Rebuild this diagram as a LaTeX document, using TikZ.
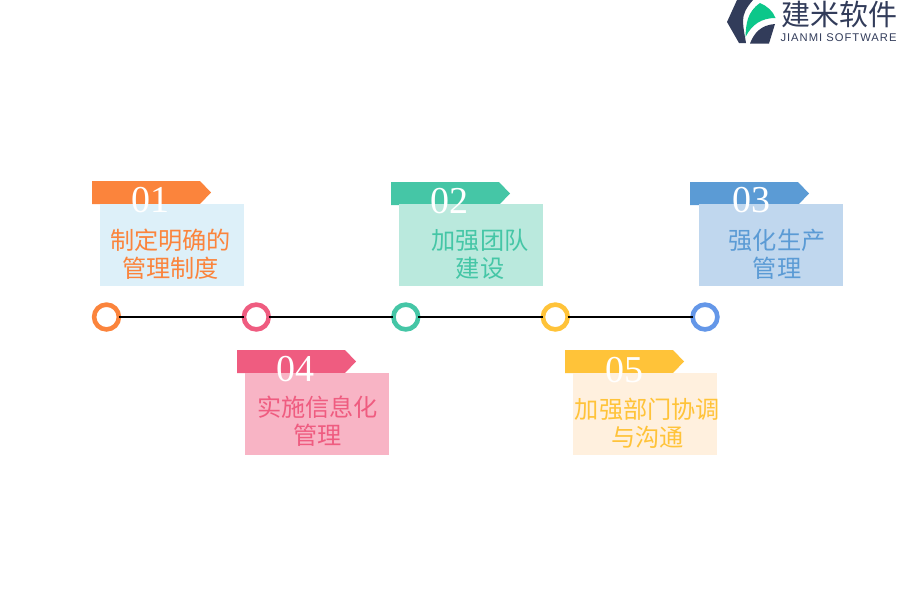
\documentclass[tikz,border=0pt]{standalone}
\usepackage{fontspec}
\setmainfont{Liberation Serif}
\newfontfamily\cjk{Noto Sans CJK SC}
\newfontfamily\lat{Liberation Sans}
\definecolor{corange}{HTML}{FB843C}
\definecolor{cpink}{HTML}{EF5C80}
\definecolor{cteal}{HTML}{45C6A6}
\definecolor{cblue}{HTML}{5B9BD5}
\definecolor{cring}{HTML}{6497E8}
\definecolor{cyellow}{HTML}{FFC339}
\definecolor{logo}{HTML}{323C5A}
\definecolor{logog}{HTML}{0CC78A}
\definecolor{porange}{HTML}{DDF0F9}
\definecolor{pteal}{HTML}{BAE9DD}
\definecolor{pblue}{HTML}{C0D7EE}
\definecolor{ppink}{HTML}{F8B4C5}
\definecolor{pyellow}{HTML}{FFF0DE}
\tikzset{
  x=1pt,y=-1pt,
  ring/.style={circle,draw=#1,line width=4.6pt,fill=white,minimum size=24.8pt,inner sep=0pt,outer sep=0pt},
  link/.style={black,line width=2.2pt},
  panel/.style={anchor=north west,minimum width=144.2pt,minimum height=82pt,inner sep=0pt,fill=#1},
  body/.style={font=\cjk\fontsize{24.2}{28}\selectfont,align=center,text=#1},
  num/.style={font=\fontsize{38}{38}\selectfont,text=white},
}
\newcommand{\tagflag}[3]{\fill[#3] (#1,#2) -- ++(108,0) -- ++(11,11.5) -- ++(-11,11.5) -- ++(-108,0) -- cycle;}
\begin{document}
\begin{tikzpicture}
\useasboundingbox (0,0) rectangle (900,600);
% rings and links
\node[ring=corange] (r1) at (106.5,317) {};
\node[ring=cpink] (r2) at (256.3,317) {};
\node[ring=cteal] (r3) at (405.8,317) {};
\node[ring=cyellow] (r4) at (555.3,317) {};
\node[ring=cring] (r5) at (705,317) {};
\draw[link] (r1) -- (r2);
\draw[link] (r2) -- (r3);
\draw[link] (r3) -- (r4);
\draw[link] (r4) -- (r5);
% 01
\tagflag{92}{181}{corange}
\node[panel=porange] (p1) at (100,204) {};
\node[num] (n1) at (150,200) {01};
\node[body=corange] (t1) at (170.5,254.5) {制定明确的\\管理制度};
% 02
\tagflag{391}{182}{cteal}
\node[panel=pteal] (p2) at (399,204) {};
\node[num] (n2) at (449,201) {02};
\node[body=cteal] (t2) at (480,254.5) {加强团队\\建设};
% 03
\tagflag{690}{182}{cblue}
\node[panel=pblue] (p3) at (699,204) {};
\node[num] (n3) at (751,200) {03};
\node[body=cblue] (t3) at (777,254) {强化生产\\管理};
% 04
\tagflag{237}{350}{cpink}
\node[panel=ppink] (p4) at (245,373) {};
\node[num] (n4) at (295,369) {04};
\node[body=cpink] (t4) at (317.5,421.5) {实施信息化\\管理};
% 05
\tagflag{565}{350}{cyellow}
\node[panel=pyellow] (p5) at (573,373) {};
\node[num] (n5) at (624,370) {05};
\node[body=cyellow] (t5) at (647.5,423) {加强部门协调\\与沟通};
% logo
\fill[logo] (737,0) -- (753,0) .. controls (746,8) and (743,14) .. (743,21) .. controls (743,28) and (745,36) .. (746,43) -- (739,43) -- (727,22) -- cycle;
\fill[logog] (745.5,37) .. controls (746,24) and (747,12) .. (760,3) .. controls (767,6) and (773,11) .. (775.5,18) .. controls (762,18) and (752,24) .. (745.5,37) -- cycle;
\fill[logo] (750,43.5) .. controls (754,33) and (761,25) .. (775,24) -- (769,43.5) -- cycle;
\node[font=\cjk\fontsize{29}{30}\selectfont,text=logo,inner sep=0pt] (lt) at (839.5,14.5) {建米软件};
\node[font=\lat\fontsize{11.2}{12}\selectfont,text=logo,inner sep=0pt] (ls) at (838.5,38) {\addfontfeatures{LetterSpace=9}JIANMI SOFTWARE};
\end{tikzpicture}
\end{document}
